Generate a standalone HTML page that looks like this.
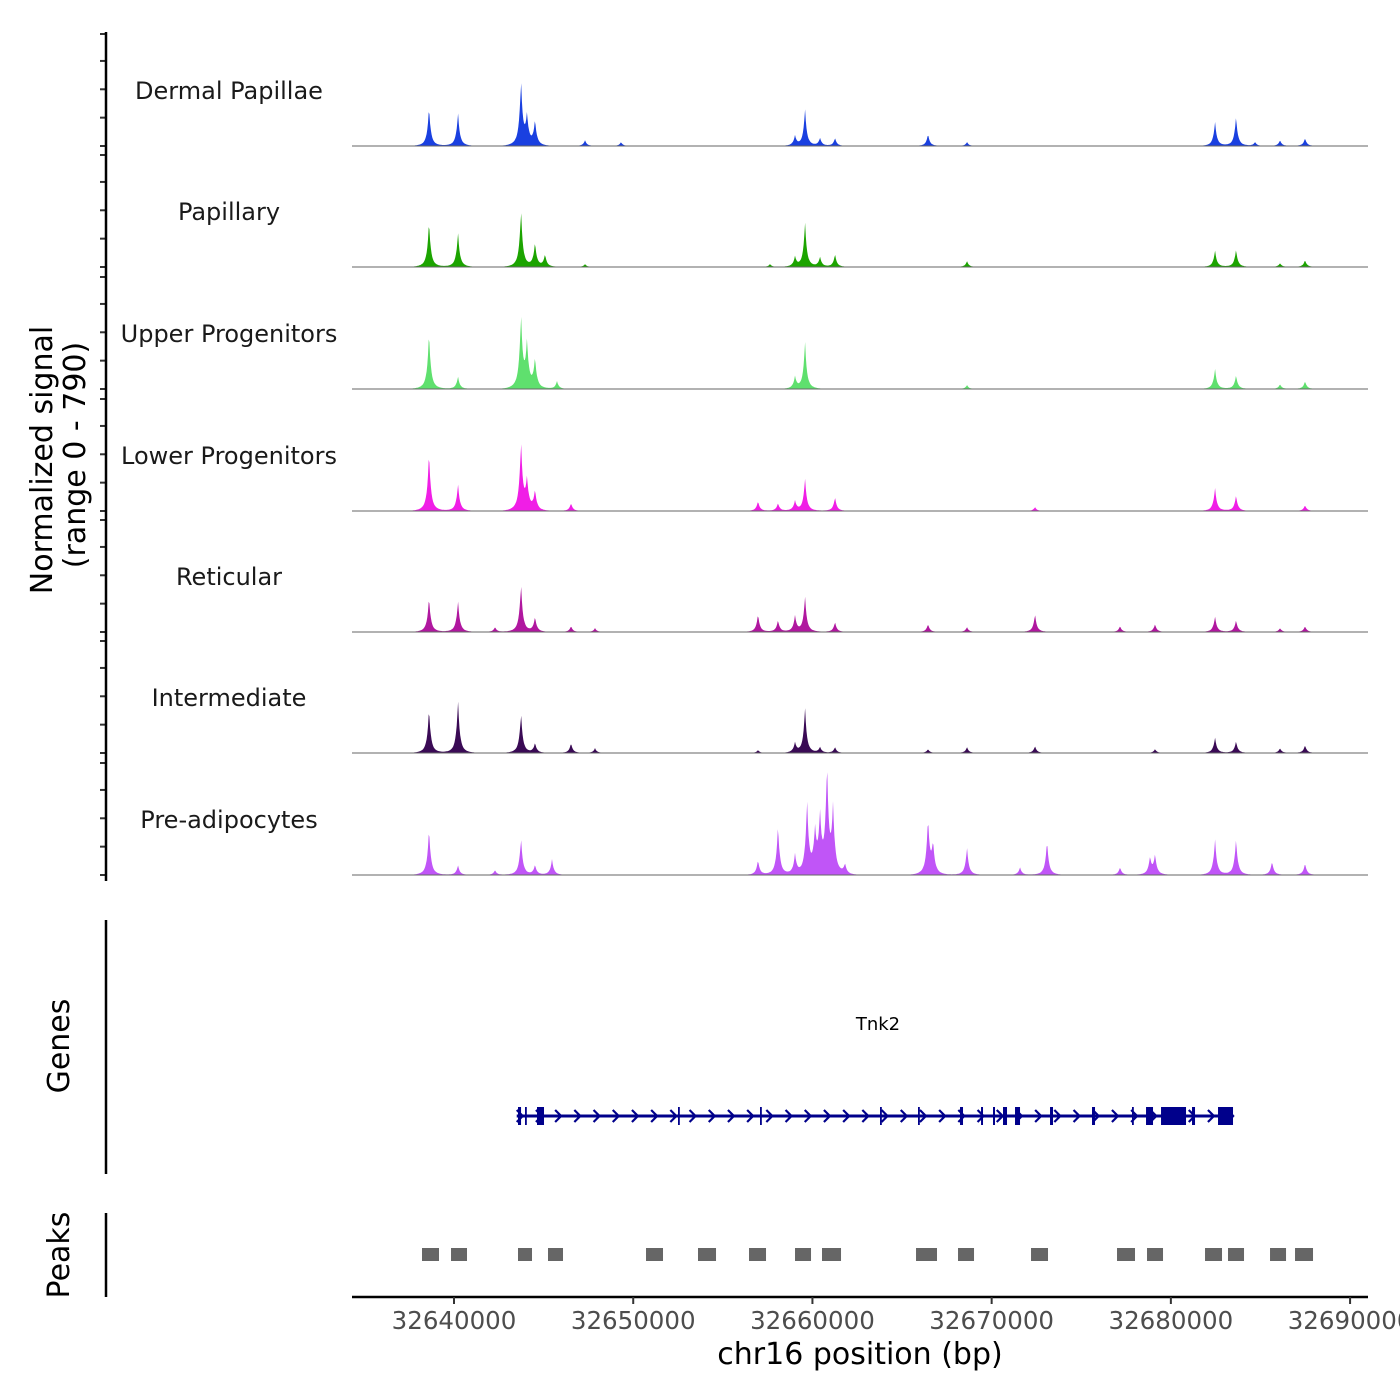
<!DOCTYPE html>
<html><head><meta charset="utf-8"><style>
body{margin:0;background:#fff;}
svg{display:block;font-family:"DejaVu Sans","Liberation Sans",sans-serif;}
</style></head><body>
<svg id="chart" width="1400" height="1400" viewBox="0 0 1400 1400" xmlns="http://www.w3.org/2000/svg">
<g id="tracks"></g>
<g id="axes"></g>
<g id="genes"></g>
<g id="peaks"></g>
<text transform="translate(52,460) rotate(-90)" text-anchor="middle" font-size="30" fill="#000">Normalized signal</text>
<text transform="translate(85,455) rotate(-90)" text-anchor="middle" font-size="30" fill="#000">(range 0 - 790)</text>
<text transform="translate(69,1046) rotate(-90)" text-anchor="middle" font-size="30" fill="#000">Genes</text>
<text transform="translate(69,1255) rotate(-90)" text-anchor="middle" font-size="30" fill="#000">Peaks</text>
<text x="860" y="1364" text-anchor="middle" font-size="30" fill="#000">chr16 position (bp)</text>
<text x="878" y="1030" text-anchor="middle" font-size="18" fill="#000">Tnk2</text>
</svg>
<script>
const trackNames = ["Dermal Papillae","Papillary","Upper Progenitors","Lower Progenitors","Reticular","Intermediate","Pre-adipocytes"];
const trackColors = ["#1a40e0","#1ca400","#5fe06e","#f01ee6","#b0179f","#3a0a55","#c055f7"];
const yMax = 790;
const xTicks = [32640000,32650000,32660000,32670000,32680000,32690000];
// peaks per track: [center bp, signal value]
const sigDP = [[32638605,280],[32640223,240],[32643739,460],[32644073,200],[32644520,175],[32647310,42],[32649319,28],[32659028,70],[32659586,260],[32660423,56],[32661260,56],[32666449,85],[32668625,28],[32682464,175],[32683636,210],[32684696,28],[32686091,42],[32687486,56]];
const sigPap = [[32638605,330],[32640223,250],[32643739,410],[32644520,170],[32645078,85],[32647310,21],[32657633,21],[32659028,70],[32659586,315],[32660423,70],[32661260,90],[32668625,42],[32682464,120],[32683636,125],[32686091,28],[32687486,50]];
const sigUp = [[32638605,410],[32640223,90],[32643739,520],[32644073,315],[32644520,210],[32645747,56],[32659028,84],[32659586,335],[32668625,28],[32682464,147],[32683636,98],[32686091,35],[32687486,56]];
const sigLow = [[32638605,425],[32640223,195],[32643739,490],[32644073,210],[32644520,140],[32646529,56],[32656963,70],[32658079,56],[32659028,70],[32659586,230],[32661260,98],[32672420,28],[32682464,168],[32683636,112],[32687486,42]];
const sigRet = [[32638605,250],[32640223,225],[32642288,35],[32643739,345],[32644520,105],[32646529,42],[32647868,28],[32656963,126],[32658079,84],[32659028,112],[32659586,250],[32661260,70],[32666449,56],[32668625,35],[32672420,126],[32677163,42],[32679116,56],[32682464,112],[32683636,84],[32686091,28],[32687486,42]];
const sigInt = [[32638605,320],[32640223,380],[32643739,285],[32644520,70],[32646529,70],[32647868,35],[32656963,21],[32659028,70],[32659586,320],[32660423,42],[32661260,42],[32666449,28],[32668625,42],[32672420,49],[32679116,28],[32682464,112],[32683636,84],[32686091,35],[32687486,56]];
const sigPre = [[32638605,335],[32640223,70],[32642288,35],[32643739,265],[32644520,70],[32645468,112],[32656963,105],[32658079,355],[32659028,140],[32659700,525],[32660144,280],[32660423,385],[32660813,750],[32661150,455],[32661818,70],[32666449,390],[32666728,210],[32668625,195],[32671583,56],[32673089,245],[32677163,56],[32678837,120],[32679116,140],[32682464,260],[32683636,260],[32685645,98],[32687486,84]];
const trackSignals = [sigDP,sigPap,sigUp,sigLow,sigRet,sigInt,sigPre];
// gene exons [start,end]
const geneSpan = [32643500,32683500];
const exons = [[32643571,32643741],[32643962,32644050],[32644631,32645022],[32652499,32652590],[32657075,32657170],[32663771,32663860],[32665891,32665980],[32668235,32668402],[32669407,32669518],[32670076,32670188],[32670634,32670857],[32671304,32671583],[32673257,32673424],[32675600,32675768],[32677832,32677920],[32678614,32679004],[32679451,32680846],[32681180,32681348],[32682631,32683468]];
// peak regions
const peakRegions = [[32638214,32639163],[32639833,32640725],[32643571,32644352],[32645245,32646082],[32650714,32651662],[32653615,32654620],[32656461,32657410],[32659028,32659921],[32660534,32661595],[32665780,32666951],[32668123,32669016],[32672197,32673145],[32676995,32677999],[32678669,32679562],[32681906,32682854],[32683189,32684082],[32685533,32686426],[32686928,32687932]];

const NS="http://www.w3.org/2000/svg";
const X0=352,X1=1368,bpStart=32634308,bpEnd=32691000;
const xs = bp => X0 + (bp-bpStart)/(bpEnd-bpStart)*(X1-X0);
const baselines=[146,267,389,511,632,753,875], TH=112;
const ys = (v,b) => b - v/yMax*TH;
function mk(tag,attrs,parent){const e=document.createElementNS(NS,tag);for(const k in attrs)e.setAttribute(k,attrs[k]);parent.appendChild(e);return e;}
const tg=document.getElementById('tracks'), ax=document.getElementById('axes'), gg=document.getElementById('genes'), pg=document.getElementById('peaks');

trackSignals.forEach((sig,i)=>{
  const b=baselines[i];
  const g=mk('g',{},tg);
  
  
  let d='M'+X0+','+b;
  for(let bp=bpStart; bp<=bpEnd; bp+=40){
    let v=0;
    sig.forEach(([c,h])=>{const dd=Math.abs(bp-c); v+=h*Math.exp(-dd/90)*0.8 + h*0.2*Math.exp(-dd/300);});
    d+=' L'+xs(bp).toFixed(1)+','+ys(Math.min(v,yMax),b).toFixed(1);
  }
  d+=' L'+X1+','+b+' Z';
  const p=mk('path',{d:d,fill:trackColors[i]},g);
  
  
  const l=mk('line',{x1:X0,x2:X1,y1:b,y2:b,stroke:'#666','stroke-width':1},g);
  
  
  const t=mk('text',{x:229,y:b-47,'text-anchor':'middle','font-size':24,fill:'#1a1a1a'},g);
  t.textContent=trackNames[i];
  
  
  [0,200,400,600,790].forEach(v=>{
    const tk=mk('line',{x1:100,x2:106,y1:ys(v,b),y2:ys(v,b),stroke:'#333','stroke-width':2},ax);
    
    
  });
});
let a=mk('line',{x1:106,x2:106,y1:32,y2:881,stroke:'#000','stroke-width':2.5},ax);

a=mk('line',{x1:106,x2:106,y1:920,y2:1174,stroke:'#000','stroke-width':2.5},ax);

a=mk('line',{x1:106,x2:106,y1:1213,y2:1297,stroke:'#000','stroke-width':2.5},ax);

a=mk('line',{x1:352,x2:1368,y1:1297,y2:1297,stroke:'#000','stroke-width':2.5},ax);

xTicks.forEach(v=>{
  const tk=mk('line',{x1:xs(v),x2:xs(v),y1:1297,y2:1304,stroke:'#333','stroke-width':2},ax);
  
  const t=mk('text',{x:xs(v),y:1329,'text-anchor':'middle','font-size':24.5,fill:'#4d4d4d'},ax);
  t.textContent=v;
  
});
// gene
const GY=1116;
let gl=mk('line',{x1:xs(geneSpan[0]),x2:xs(geneSpan[1]),y1:GY,y2:GY,stroke:'#00008b','stroke-width':3},gg);

for(let x=xs(geneSpan[0])+3; x<xs(geneSpan[1]); x+=19.2){
  const ar=mk('path',{d:`M${x-3},${GY-6} L${x+3},${GY} L${x-3},${GY+6}`,stroke:'#00008b','stroke-width':2.2,fill:'none'},gg);
  
}
exons.forEach(([s,e])=>{
  const r=mk('rect',{x:xs(s),y:GY-9,width:Math.max(1.8,xs(e)-xs(s)),height:18,fill:'#00008b'},gg);
  
});
peakRegions.forEach(([s,e])=>{
  const r=mk('rect',{x:xs(s),y:1248,width:xs(e)-xs(s),height:13,fill:'#666'},pg);
  
});
</script>
</body></html>
